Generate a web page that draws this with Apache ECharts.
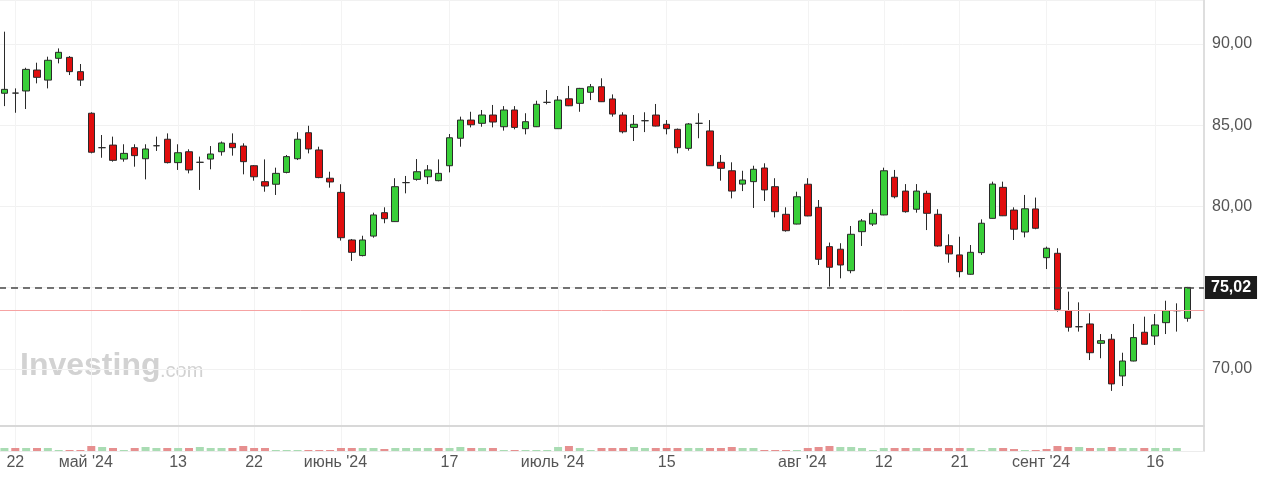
<!DOCTYPE html>
<html><head><meta charset="utf-8">
<script src="https://cdn.jsdelivr.net/npm/echarts/dist/echarts.min.js"></script>
<style>html,body{margin:0;padding:0;background:#fff}#c{width:1280px;height:478px}</style>
</head><body><div id="c"></div>
<script>
const dates = [
'2024-04-19',
'2024-04-22','2024-04-23','2024-04-24','2024-04-25','2024-04-26',
'2024-04-29','2024-04-30','2024-05-01','2024-05-02','2024-05-03',
'2024-05-06','2024-05-07','2024-05-08','2024-05-09','2024-05-10',
'2024-05-13','2024-05-14','2024-05-15','2024-05-16','2024-05-17',
'2024-05-20','2024-05-21','2024-05-22','2024-05-23','2024-05-24',
'2024-05-27','2024-05-28','2024-05-29','2024-05-30','2024-05-31',
'2024-06-03','2024-06-04','2024-06-05','2024-06-06','2024-06-07',
'2024-06-10','2024-06-11','2024-06-12','2024-06-13','2024-06-14',
'2024-06-17','2024-06-18','2024-06-19','2024-06-20','2024-06-21',
'2024-06-24','2024-06-25','2024-06-26','2024-06-27','2024-06-28',
'2024-07-01','2024-07-02','2024-07-03','2024-07-04','2024-07-05',
'2024-07-08','2024-07-09','2024-07-10','2024-07-11','2024-07-12',
'2024-07-15','2024-07-16','2024-07-17','2024-07-18','2024-07-19',
'2024-07-22','2024-07-23','2024-07-24','2024-07-25','2024-07-26',
'2024-07-29','2024-07-30','2024-07-31','2024-08-01','2024-08-02',
'2024-08-05','2024-08-06','2024-08-07','2024-08-08','2024-08-09',
'2024-08-12','2024-08-13','2024-08-14','2024-08-15','2024-08-16',
'2024-08-19','2024-08-20','2024-08-21','2024-08-22','2024-08-23',
'2024-08-26','2024-08-27','2024-08-28','2024-08-29','2024-08-30',
'2024-09-02','2024-09-03','2024-09-04','2024-09-05','2024-09-06',
'2024-09-09','2024-09-10','2024-09-11','2024-09-12','2024-09-13',
'2024-09-16','2024-09-17','2024-09-18','2024-09-19','2024-09-20'
];

const openV = [
86.97,86.98,87.11,88.40,87.78,89.12,89.18,88.30,85.74,83.62,
83.78,82.92,83.62,82.94,83.74,84.14,82.70,83.37,82.72,82.92,
83.37,83.89,83.72,82.51,81.53,81.37,82.10,82.94,84.54,83.48,
81.74,80.87,77.94,76.98,78.18,79.62,79.07,81.47,81.67,81.83,
81.59,82.51,84.20,85.32,85.12,85.63,84.91,85.94,84.79,84.91,
86.41,84.79,86.63,86.35,87.03,87.37,86.62,85.63,84.87,85.28,
85.63,85.06,84.75,83.58,85.12,84.65,82.72,82.20,81.38,81.53,
82.37,81.22,79.52,78.92,81.37,79.95,77.53,77.37,76.05,78.45,
78.92,79.48,81.80,80.95,79.83,80.81,79.52,77.59,77.02,75.83,
77.16,79.27,81.18,79.78,78.43,79.85,76.85,77.12,73.59,72.60,
72.77,71.58,71.83,69.57,70.49,72.26,72.03,72.85,73.59,73.12
];
const closeV = [
87.21,86.98,88.44,87.95,89.00,89.49,88.30,87.78,83.34,83.62,
82.84,83.27,83.13,83.54,83.74,82.70,83.31,82.25,82.72,83.23,
83.91,83.62,82.76,81.83,81.26,82.04,83.07,84.14,83.54,81.78,
81.51,78.08,77.18,77.94,79.48,79.25,81.22,81.47,82.14,82.25,
82.04,84.23,85.32,85.03,85.63,85.20,85.94,84.87,85.22,86.29,
86.41,86.55,86.20,87.27,87.37,86.45,85.69,84.60,85.06,85.28,
84.95,84.79,83.62,85.08,85.12,82.51,82.35,80.95,81.63,82.29,
81.02,79.68,78.51,80.60,79.42,76.75,76.26,76.40,78.29,79.11,
79.58,82.20,80.60,79.68,80.95,79.58,77.57,77.08,75.99,77.18,
78.97,81.38,79.43,78.60,79.86,78.66,77.43,73.67,72.57,72.60,
71.00,71.74,69.08,70.49,71.93,71.52,72.71,73.59,73.59,75.02
];
const lowV = [
86.18,85.77,86.00,87.58,87.27,88.81,88.09,87.42,83.27,83.00,
82.76,82.76,82.45,81.67,83.42,82.65,82.25,82.04,81.02,82.29,
83.13,83.13,81.98,81.59,80.91,80.71,82.04,82.86,83.27,81.74,
81.16,77.90,76.65,76.93,78.08,78.97,79.05,80.81,81.59,81.38,
81.55,82.10,83.68,84.87,84.91,84.87,84.67,84.75,84.44,84.89,
86.29,84.77,86.18,85.83,86.55,86.43,85.53,84.50,84.03,84.58,
84.93,84.44,83.27,83.44,84.20,82.49,81.59,80.50,80.95,79.91,
80.34,79.33,78.45,78.90,79.40,76.40,75.07,75.58,75.89,77.57,
78.80,79.46,80.50,79.62,79.62,78.55,77.53,76.54,75.64,75.80,
77.02,79.25,79.41,77.94,78.10,78.60,76.15,73.53,72.30,72.30,
70.55,70.66,68.65,68.95,70.47,71.50,71.48,72.15,72.30,72.91
];
const highV = [
90.76,87.27,88.54,88.85,89.22,89.73,89.26,88.77,85.80,84.40,
84.30,83.83,83.83,83.83,84.30,84.50,83.83,83.52,83.07,83.72,
84.00,84.50,83.89,82.55,82.90,82.39,83.17,84.57,84.97,83.68,
82.14,81.37,78.00,78.20,79.62,79.95,81.74,81.88,82.92,82.55,
82.90,84.46,85.53,85.83,85.94,86.25,86.18,86.18,85.74,86.51,
87.17,86.80,87.42,87.30,87.54,87.89,86.90,85.80,85.63,85.80,
86.31,85.32,84.80,85.14,85.74,85.32,83.17,82.72,82.20,82.51,
82.66,81.74,79.95,80.91,81.74,80.40,77.78,77.74,78.80,79.23,
79.83,82.39,82.25,81.38,81.38,80.97,79.83,78.29,78.14,77.63,
79.21,81.53,81.53,79.95,80.71,80.55,77.53,77.43,74.76,74.10,
73.43,72.15,72.15,71.00,72.77,73.22,73.38,74.20,74.04,75.05
];
const volumeV = [
3,3,3,3,3,1,1,1,5,4,
3,1,3,4,3,3,3,3,4,3,
3,3,5,3,3,1,1,1,1,1,
1,3,3,3,3,2,3,3,3,3,
3,3,4,3,3,3,1,1,1,1,
1,4,5,3,1,3,3,3,4,3,
3,3,3,3,3,3,3,4,3,3,
1,1,1,1,3,4,5,4,4,3,
1,3,3,3,3,3,3,3,3,3,
1,3,3,2,1,1,2,5,4,4,
3,3,4,3,3,3,3,3,3,0
];
const tickDates = ['2024-04-22','2024-05-01','2024-05-13','2024-05-22','2024-06-03','2024-06-17','2024-07-01','2024-07-15','2024-08-01','2024-08-12','2024-08-21','2024-09-02','2024-09-16'];
const tickText  = ['22',"май '24",'13','22',"июнь '24",'17',"июль '24",'15',"авг '24",'12','21',"сент '24",'16'];
const tickIsMonth = [false,true,false,false,true,false,true,false,true,false,false,true,false];
const lastPrice = 75.02;
const prevClose = 73.59;

const FONT = 'Liberation Sans, Arial, sans-serif';
const tickIdx = tickDates.map(d => dates.indexOf(d));
const isTick = (i) => tickIdx.indexOf(i) >= 0;
const fmt = v => v.toFixed(2).replace('.', ',');

const candleData = openV.map((o, i) => [o, closeV[i], lowV[i], highV[i]]);
const volData = volumeV.map((v, i) => {
  const ref = i > 0 ? closeV[i - 1] : openV[i];
  return { value: v, itemStyle: { color: closeV[i] >= ref ? '#a9dcb3' : '#e68f8f' } };
});

const chart = echarts.init(document.getElementById('c'), null, { renderer: 'canvas' });
chart.setOption({
  animation: false,
  backgroundColor: '#ffffff',
  textStyle: { fontFamily: FONT },
  graphic: [
    { type: 'text', left: 20, top: 350, z: 0, silent: true,
      style: { text: 'Investing', fill: '#d2d2d2', font: 'bold 32px ' + FONT } },
    { type: 'text', left: 160, top: 361, z: 0, silent: true,
      style: { text: '.com', fill: '#d2d2d2', font: '20px ' + FONT } }
  ],
  grid: [
    { left: -1, right: 76, top: 0, height: 426, outerBoundsMode: 'none', containLabel: false },
    { left: -1, right: 76, top: 427, height: 24, outerBoundsMode: 'none', containLabel: false }
  ],
  xAxis: [
    { type: 'category', gridIndex: 0, data: dates, boundaryGap: true,
      axisLine: { show: true, lineStyle: { color: '#d8d8d8', width: 2 } },
      axisTick: { show: false }, axisLabel: { show: false },
      splitLine: { show: true, interval: (i) => isTick(i), alignWithLabel: true, lineStyle: { color: '#f3f3f3', width: 1 } } },
    { type: 'category', gridIndex: 1, data: dates, boundaryGap: true,
      axisLine: { show: true, lineStyle: { color: '#ececec', width: 1 } },
      axisTick: { show: false },
      splitLine: { show: true, interval: (i) => isTick(i), alignWithLabel: true, lineStyle: { color: '#f3f3f3', width: 1 } },
      axisLabel: {
        show: true, interval: (i) => isTick(i), margin: 4, hideOverlap: false,
        color: '#555', fontSize: 16, fontFamily: FONT,
        formatter: (val, i) => {
          const k = tickDates.indexOf(val);
          if (k < 0) return '';
          return tickIsMonth[k] ? '{m|' + tickText[k] + '}' : '{d|' + tickText[k] + '}';
        },
        rich: {
          m: { padding: [0, 11, 0, 0], color: '#555', fontSize: 16, fontFamily: FONT },
          d: { color: '#555', fontSize: 16, fontFamily: FONT }
        }
      } }
  ],
  yAxis: [
    { type: 'value', gridIndex: 0, position: 'right', min: 66.49, max: 92.71, scale: true,
      axisLine: { show: true, lineStyle: { color: '#dedede', width: 2 } },
      axisTick: { show: false },
      splitLine: { show: true, lineStyle: { color: '#f1f1f1', width: 1 } },
      axisLabel: { show: true, margin: 8, color: '#555', fontSize: 16, fontFamily: FONT,
        formatter: v => (Math.abs(v % 5) < 1e-6 && Math.abs(v - 75) > 1e-6) ? fmt(v) : '' } },
    { type: 'value', gridIndex: 1, position: 'right', min: 0, max: 24,
      axisLine: { show: true, lineStyle: { color: '#dedede', width: 2 } },
      axisTick: { show: false }, axisLabel: { show: false }, splitLine: { show: false } }
  ],
  series: [
    { type: 'candlestick', xAxisIndex: 0, yAxisIndex: 0, data: candleData, barWidth: 7,
      itemStyle: { color: '#39cf39', color0: '#e00d0d', borderColor: '#2a2a2a', borderColor0: '#2a2a2a', borderColorDoji: '#2a2a2a', borderWidth: 1 },
      markLine: {
        symbol: ['none', 'none'], silent: true, animation: false,
        data: [
          { yAxis: lastPrice,
            lineStyle: { color: '#474747', type: [7, 5], width: 1.5 },
            label: { show: true, position: 'end', distance: 1, formatter: fmt(lastPrice),
              backgroundColor: '#1b1b1b', color: '#ffffff', fontSize: 16, fontWeight: 'bold',
              fontFamily: FONT, padding: [4, 6, 3, 6] } },
          { yAxis: prevClose,
            lineStyle: { color: '#f6a3a3', type: 'solid', width: 1 },
            label: { show: false } }
        ]
      } },
    { type: 'bar', xAxisIndex: 1, yAxisIndex: 1, data: volData, barWidth: 8, silent: true }
  ]
});
</script></body></html>
